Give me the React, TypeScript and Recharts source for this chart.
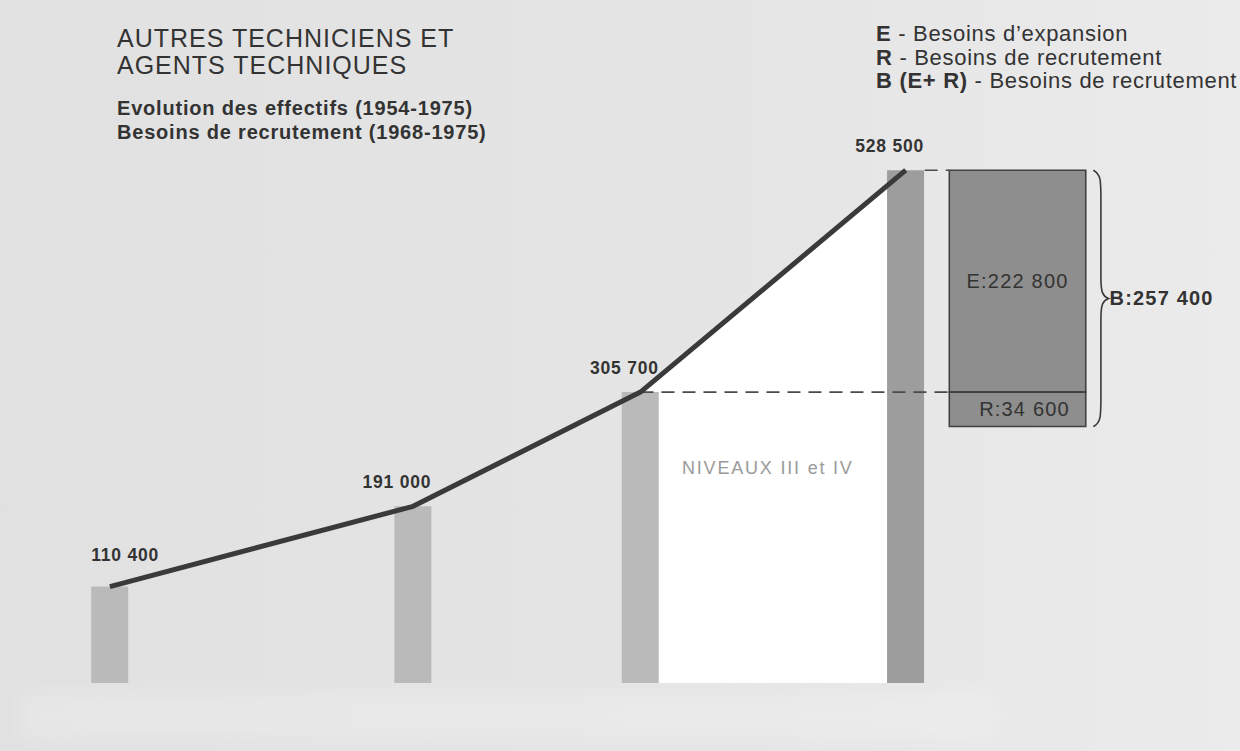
import React from 'react'
import {
  ComposedChart,
  Bar,
  Line,
  Area,
  XAxis,
  YAxis,
  Cell,
  LabelList,
  ReferenceArea,
  ReferenceLine,
} from 'recharts'

// Evolution des effectifs
const years = [1954, 1962, 1968, 1975]
const effectifs = [110400, 191000, 305700, 528500]
const effectifLabels = ['110 400', '191 000', '305 700', '528 500']

// Besoins 1968-1975
const besoinsExpansion = 222800
const besoinsRenouvellement = 34600
const besoinsTotal = 257400
const besoinsLabels = ['E:222 800', 'R:34 600', 'B:257 400']

const titleLines = ['AUTRES TECHNICIENS ET', 'AGENTS TECHNIQUES']
const subtitleLines = ['Evolution des effectifs (1954-1975)', 'Besoins de recrutement (1968-1975)']
const legendItems = [
  { key: 'E', text: ' - Besoins d\u2019expansion' },
  { key: 'R', text: ' - Besoins de recrutement' },
  { key: 'B (E+ R)', text: ' - Besoins de recrutement' },
]
const zoneLabel = 'NIVEAUX III et IV'

const W = 1240
const H = 751
const FONT = '"Liberation Sans", Arial, Helvetica, sans-serif'
const INK = '#333333'

// box position (years on the x scale)
const BOX_X1 = 1976.15
const BOX_X2 = 1979.75
const BRACE_X1 = 1979.95
const BRACE_X2 = 1980.35

const data = years.map((y, i) => ({
  year: y,
  effectif: effectifs[i],
  label: effectifLabels[i],
  niveaux: y >= 1968 ? effectifs[i] : null,
}))

const lastEffectif = effectifs[effectifs.length - 1]
const startBesoins = lastEffectif - besoinsExpansion // 305 700

const ValueLabel = (props: any) => {
  const { x, y, width, index, value } = props
  const first = index === 0
  return (
    <text
      x={first ? x : x + width}
      y={first ? y - 26 : y - 18}
      textAnchor={first ? 'start' : 'end'}
      fontFamily={FONT}
      fontWeight={700}
      fontSize={17.5}
      letterSpacing={0.8}
      fill={INK}
    >
      {value}
    </text>
  )
}

const Brace = (props: any) => {
  const { x, y, width, height } = props
  const mid = y + height / 2
  const x0 = x
  const x1 = x + width * 0.5
  const xt = x + width
  const d = `M ${x0} ${y} C ${x1} ${y + 4}, ${x1} ${y + 10}, ${x1} ${y + 30}
    L ${x1} ${mid - 20} C ${x1} ${mid - 6}, ${x1 + 2} ${mid - 2}, ${xt} ${mid}
    C ${x1 + 2} ${mid + 2}, ${x1} ${mid + 6}, ${x1} ${mid + 20}
    L ${x1} ${y + height - 30} C ${x1} ${y + height - 10}, ${x1} ${y + height - 4}, ${x0} ${y + height}`
  return (
    <g>
      <path d={d} fill="none" stroke="#3a3a3a" strokeWidth={1.6} />
      <text x={xt + 1} y={mid + 7} fontFamily={FONT} fontWeight={700} fontSize={20} letterSpacing={1.2} fill={INK}>
        {besoinsLabels[2]}
      </text>
    </g>
  )
}

export default function App() {
  return (
    <div
      style={{
        position: 'fixed',
        left: 0,
        top: 0,
        width: W,
        height: H,
        background: 'linear-gradient(90deg, #e1e1e1 0%, #e5e5e5 60%, #ebebeb 100%)',
        fontFamily: FONT,
        color: INK,
        overflow: 'hidden',
      }}
    >
      <div
        style={{
          position: 'absolute',
          left: 20,
          top: 692,
          width: 980,
          height: 48,
          background: 'rgba(255,255,255,0.2)',
          filter: 'blur(10px)',
        }}
      />

      <ComposedChart
        width={W}
        height={H}
        data={data}
        margin={{ top: 99, right: 0, bottom: 68, left: 0 }}
        style={{ position: 'absolute', left: 0, top: 0 }}
      >
        <XAxis type="number" dataKey="year" domain={[1951.1, 1983.82]} allowDataOverflow hide />
        <YAxis type="number" domain={[13600, 600000]} allowDataOverflow hide />

        <Area
          type="linear"
          dataKey="niveaux"
          stroke="none"
          fill="#ffffff"
          fillOpacity={1}
          isAnimationActive={false}
          activeDot={false}
        />

        <Bar dataKey="effectif" barSize={37} isAnimationActive={false}>
          {data.map((d, i) => (
            <Cell key={d.year} fill={i === data.length - 1 ? '#9d9d9d' : '#bababa'} />
          ))}
          <LabelList dataKey="label" content={<ValueLabel />} />
        </Bar>

        <ReferenceLine
          segment={[
            { x: 1968, y: startBesoins },
            { x: BOX_X1, y: startBesoins },
          ]}
          stroke="#4a4a4a"
          strokeWidth={1.6}
          strokeDasharray="13 8"
          ifOverflow="visible"
        />
        <ReferenceLine
          segment={[
            { x: 1975.5, y: lastEffectif },
            { x: BOX_X1, y: lastEffectif },
          ]}
          stroke="#4a4a4a"
          strokeWidth={1.6}
          strokeDasharray="13 8"
          ifOverflow="visible"
        />

        <Line
          type="linear"
          dataKey="effectif"
          stroke="#3a3a3a"
          strokeWidth={5}
          dot={false}
          activeDot={false}
          strokeLinejoin="round"
          isAnimationActive={false}
        />

        <ReferenceArea
          x1={BOX_X1}
          x2={BOX_X2}
          y1={startBesoins}
          y2={lastEffectif}
          fill="#8e8e8e"
          fillOpacity={1}
          stroke="#404040"
          strokeWidth={1.6}
          ifOverflow="visible"
          label={{ value: besoinsLabels[0], position: 'center', fontFamily: FONT, fontSize: 20, letterSpacing: 1.2, fill: INK }}
        />
        <ReferenceArea
          x1={BOX_X1}
          x2={BOX_X2}
          y1={startBesoins - besoinsRenouvellement}
          y2={startBesoins}
          fill="#8e8e8e"
          fillOpacity={1}
          stroke="#404040"
          strokeWidth={1.6}
          ifOverflow="visible"
          label={{ value: besoinsLabels[1], position: 'center', fontFamily: FONT, fontSize: 20, letterSpacing: 1.2, fill: INK, dx: 7 }}
        />
        <ReferenceArea
          x1={BRACE_X1}
          x2={BRACE_X2}
          y1={startBesoins - besoinsRenouvellement}
          y2={startBesoins - besoinsRenouvellement + besoinsTotal}
          ifOverflow="visible"
          shape={<Brace />}
        />
      </ComposedChart>

      <div style={{ position: 'absolute', left: 117, top: 25, fontSize: 25, lineHeight: '27px', letterSpacing: 1.0, whiteSpace: 'nowrap' }}>
        {titleLines.map(t => (
          <div key={t}>{t}</div>
        ))}
      </div>
      <div
        style={{
          position: 'absolute',
          left: 117,
          top: 96,
          fontSize: 20,
          lineHeight: '24px',
          fontWeight: 700,
          letterSpacing: 0.8,
          whiteSpace: 'nowrap',
        }}
      >
        {subtitleLines.map(t => (
          <div key={t}>{t}</div>
        ))}
      </div>
      <div
        style={{
          position: 'absolute',
          left: 876,
          top: 22,
          fontSize: 22,
          lineHeight: '23.5px',
          letterSpacing: 0.7,
          whiteSpace: 'nowrap',
        }}
      >
        {legendItems.map((l, i) => (
          <div key={i}>
            <b>{l.key}</b>
            {l.text}
          </div>
        ))}
      </div>
      <div
        style={{
          position: 'absolute',
          left: 682,
          top: 458,
          fontSize: 18,
          color: '#9a9a9a',
          letterSpacing: 1.8,
          whiteSpace: 'nowrap',
        }}
      >
        {zoneLabel}
      </div>
    </div>
  )
}
